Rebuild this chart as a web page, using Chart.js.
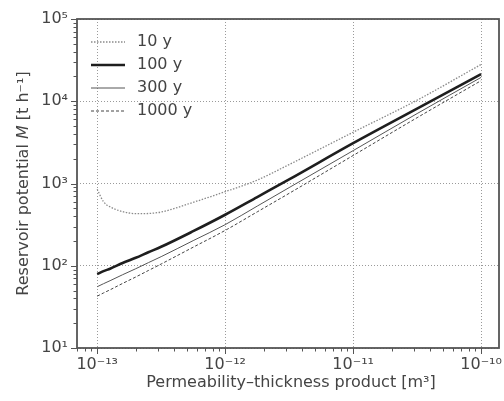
<!DOCTYPE html>
<html>
<head>
<meta charset="utf-8">
<script src="https://cdn.jsdelivr.net/npm/chart.js@4.4.0/dist/chart.umd.min.js"></script>
<style>
  html, body { margin: 0; padding: 0; background: #fff; }
  #wrap { width: 504px; height: 401px; }
</style>
</head>
<body>
<div id="wrap"><canvas id="reservoirChart"></canvas></div>
<script>
// permeability-thickness product [m^3]
const khValues = [1e-13, 1.12e-13, 1.26e-13, 1.58e-13, 2e-13, 2.51e-13, 3.16e-13, 5.62e-13,
  1e-12, 1.78e-12, 3.16e-12, 1e-11, 3.16e-11, 1e-10];

// reservoir potential M [t/h] per operation time
const seriesLabels = ['10 y', '100 y', '300 y', '1000 y'];
const m10y = [850, 600, 520, 455, 430, 432, 450, 590, 795, 1100, 1700, 4200, 10300, 28000];
const m100y = [79, 86, 92, 108, 125, 146, 170, 263, 417, 684, 1120, 3090, 8130, 21400];
const m300y = [55.6, 60.5, 65.8, 77.8, 92, 109, 129, 202, 316, 531, 891, 2510, 7080, 19500];
const m1000y = [42.7, 46.7, 51, 61, 73, 87.5, 105, 168, 269, 452, 759, 2190, 6310, 17800];

const xTickLabels = { '-13': '10\u207B\u00B9\u00B3', '-12': '10\u207B\u00B9\u00B2', '-11': '10\u207B\u00B9\u00B9', '-10': '10\u207B\u00B9\u2070' };
const yTickLabels = { '1': '10\u00B9', '2': '10\u00B2', '3': '10\u00B3', '4': '10\u2074', '5': '10\u2075' };

const FONT = 'DejaVu Sans';
const TEXT = '#444';
const SPINE = '#555';

const isDecade = v => Math.abs(Math.log10(v) - Math.round(Math.log10(v))) < 1e-6;

function logTicks(minExp, maxExp, lo, hi) {
  const out = [];
  for (let e = minExp; e <= maxExp; e++) {
    for (let m = 1; m <= 9; m++) {
      const v = m * Math.pow(10, e);
      if (v >= lo * 0.999 && v <= hi * 1.001) out.push({ value: v, major: m === 1 });
    }
  }
  return out;
}

const toPoints = vals => khValues.map((x, i) => ({ x, y: vals[i] }));

// frame, tick marks, legend and axis titles
const decorations = {
  id: 'decorations',
  afterDraw(chart) {
    const { ctx, chartArea: a, scales } = chart;
    ctx.save();

    // tick marks (outward, major longer)
    ctx.strokeStyle = SPINE;
    ctx.lineWidth = 1;
    scales.x.ticks.forEach(t => {
      const px = Math.round(scales.x.getPixelForValue(t.value)) + 0.5;
      const len = isDecade(t.value) ? 6 : 3.5;
      ctx.beginPath();
      ctx.moveTo(px, a.bottom);
      ctx.lineTo(px, a.bottom + len);
      ctx.stroke();
    });
    scales.y.ticks.forEach(t => {
      const py = Math.round(scales.y.getPixelForValue(t.value)) + 0.5;
      const len = isDecade(t.value) ? 6 : 3.5;
      ctx.beginPath();
      ctx.moveTo(a.left, py);
      ctx.lineTo(a.left - len, py);
      ctx.stroke();
    });

    ctx.lineWidth = 1.8;
    ctx.strokeRect(a.left, a.top, a.right - a.left, a.bottom - a.top);

    // legend
    ctx.font = '16px "' + FONT + '"';
    ctx.textBaseline = 'middle';
    chart.data.datasets.forEach((ds, i) => {
      const y = a.top + 23 + i * 23;
      ctx.beginPath();
      ctx.strokeStyle = ds.borderColor;
      ctx.lineWidth = ds.borderWidth;
      ctx.setLineDash(ds.borderDash || []);
      ctx.moveTo(a.left + 14, y);
      ctx.lineTo(a.left + 48, y);
      ctx.stroke();
      ctx.setLineDash([]);
      ctx.fillStyle = TEXT;
      ctx.textAlign = 'left';
      ctx.fillText(ds.label, a.left + 60, y);
    });

    // x title
    ctx.textAlign = 'center';
    ctx.fillText('Permeability\u2013thickness product [m\u00B3]', (a.left + a.right) / 2 + 3, 383);

    // y title with italic M
    const parts = [['Reservoir potential ', ''], ['M', 'italic '], [' [t h\u207B\u00B9]', '']];
    let total = 0;
    parts.forEach(p => { ctx.font = p[1] + '16px "' + FONT + '"'; total += ctx.measureText(p[0]).width; });
    ctx.translate(24, (a.top + a.bottom) / 2);
    ctx.rotate(-Math.PI / 2);
    ctx.textAlign = 'left';
    let x = -total / 2;
    parts.forEach(p => {
      ctx.font = p[1] + '16px "' + FONT + '"';
      ctx.fillText(p[0], x, 0);
      x += ctx.measureText(p[0]).width;
    });
    ctx.restore();
  }
};

const gridColor = c => (c.tick && isDecade(c.tick.value)) ? '#9a9a9a' : 'rgba(0,0,0,0)';

const ctx = document.getElementById('reservoirChart').getContext('2d');
new Chart(ctx, {
  type: 'line',
  data: {
    datasets: [
      { label: seriesLabels[0], data: toPoints(m10y), borderColor: '#8a8a8a', borderWidth: 1.3, borderDash: [1.5, 1.5] },
      { label: seriesLabels[1], data: toPoints(m100y), borderColor: '#1e1e1e', borderWidth: 2.6 },
      { label: seriesLabels[2], data: toPoints(m300y), borderColor: '#555', borderWidth: 1 },
      { label: seriesLabels[3], data: toPoints(m1000y), borderColor: '#444', borderWidth: 1, borderDash: [3, 2] }
    ]
  },
  options: {
    responsive: true,
    maintainAspectRatio: false,
    animation: false,
    layout: { padding: { top: 19, right: 5, left: 0, bottom: 0 } },
    elements: { point: { radius: 0 }, line: { cubicInterpolationMode: 'monotone' } },
    plugins: { legend: { display: false }, tooltip: { enabled: false } },
    scales: {
      x: {
        type: 'logarithmic',
        min: 6.95e-14,
        max: 1.38e-10,
        afterBuildTicks: s => { s.ticks = logTicks(-14, -10, s.min, s.max); },
        afterFit: s => { s.height = 53; s.paddingLeft = 0; s.paddingRight = 0; },
        grid: { color: gridColor, lineWidth: 1, drawTicks: false },
        border: { display: false, dash: [1, 2] },
        ticks: {
          autoSkip: false, maxRotation: 0, padding: 7, color: TEXT,
          font: { family: FONT, size: 16 },
          callback: v => isDecade(v) ? xTickLabels[String(Math.round(Math.log10(v)))] : ''
        }
      },
      y: {
        type: 'logarithmic',
        min: 10,
        max: 1e5,
        afterBuildTicks: s => { s.ticks = logTicks(1, 5, s.min, s.max); },
        afterFit: s => { s.width = 77; s.paddingTop = 0; s.paddingBottom = 0; },
        grid: { color: gridColor, lineWidth: 1, drawTicks: false },
        border: { display: false, dash: [1, 2] },
        ticks: {
          autoSkip: false, padding: 9, color: TEXT,
          font: { family: FONT, size: 16 },
          callback: v => isDecade(v) ? yTickLabels[String(Math.round(Math.log10(v)))] : ''
        }
      }
    }
  },
  plugins: [decorations]
});
</script>
</body>
</html>
